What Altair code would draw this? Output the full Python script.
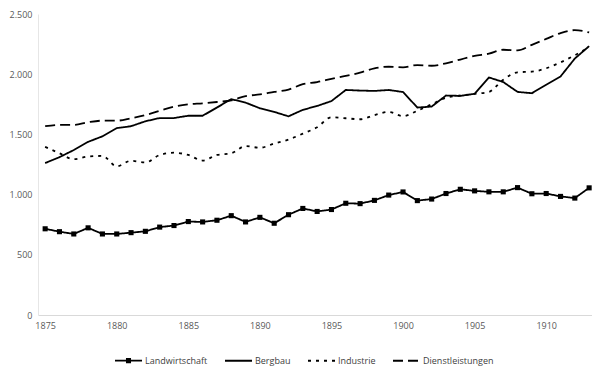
import altair as alt
import pandas as pd

years = [1875, 1876, 1877, 1878, 1879, 1880, 1881, 1882, 1883, 1884, 1885, 1886,
         1887, 1888, 1889, 1890, 1891, 1892, 1893, 1894, 1895, 1896, 1897, 1898,
         1899, 1900, 1901, 1902, 1903, 1904, 1905, 1906, 1907, 1908, 1909, 1910,
         1911, 1912, 1913]

landwirtschaft = [716, 692, 673, 724, 673, 673, 684, 695, 730, 743, 776, 773,
                  787, 825, 773, 811, 762, 833, 885, 860, 876, 928, 925, 952,
                  996, 1022, 950, 963, 1009, 1044, 1031, 1023, 1023, 1058, 1007, 1009,
                  985, 971, 1056]
bergbau = [1262, 1311, 1370, 1438, 1484, 1552, 1568, 1609, 1636, 1636, 1655, 1655,
           1723, 1793, 1764, 1717, 1687, 1650, 1704, 1736, 1777, 1869, 1864, 1861,
           1869, 1852, 1723, 1731, 1823, 1820, 1837, 1973, 1935, 1853, 1842, 1913,
           1981, 2130, 2233]
industrie = [1397, 1343, 1294, 1316, 1321, 1235, 1281, 1267, 1329, 1348, 1329, 1283,
             1329, 1343, 1403, 1389, 1424, 1457, 1506, 1560, 1642, 1634, 1626, 1660,
             1687, 1652, 1696, 1750, 1804, 1823, 1837, 1853, 1954, 2016, 2021, 2049,
             2098, 2157, 2225]
dienstleistungen = [1568, 1579, 1579, 1601, 1614, 1614, 1634, 1660, 1696, 1731, 1750, 1758,
                    1769, 1783, 1818, 1832, 1853, 1872, 1918, 1935, 1962, 1986, 2013, 2049,
                    2062, 2057, 2076, 2070, 2090, 2122, 2152, 2171, 2203, 2198, 2244, 2293,
                    2342, 2366, 2347]

series_names = ["Landwirtschaft", "Bergbau", "Industrie", "Dienstleistungen"]
x_ticks = [1875, 1880, 1885, 1890, 1895, 1900, 1905, 1910]
y_ticks = [0, 500, 1000, 1500, 2000, 2500]

rows = []
for name, vals in zip(series_names, [landwirtschaft, bergbau, industrie, dienstleistungen]):
    for yr, v in zip(years, vals):
        rows.append({"Jahr": yr, "Sektor": name, "Wert": v})
df = pd.DataFrame(rows)

dash_range = [[1, 0], [1, 0], [3, 5], [10, 5]]
shape_range = ["M-1,0H1M-0.12,-0.12H0.12V0.12H-0.12Z", "stroke", "stroke", "stroke"]

legend = alt.Legend(
    title=None, orient="none", legendX=76, legendY=332, direction="horizontal",
    symbolSize=729, symbolStrokeWidth=1.8, symbolStrokeColor="black",
    symbolOpacity=1,
    labelFont="Open Sans", labelFontSize=9, labelColor="#404040",
    columnPadding=13, labelOffset=2,
)

x_enc = alt.X(
    "Jahr:Q",
    scale=alt.Scale(domain=[1874.5, 1913.2], nice=False, zero=False),
    axis=alt.Axis(values=x_ticks, format="d", title=None, ticks=False, tickSize=0,
                  grid=False, domainColor="#d9d9d9", domainWidth=1, labelPadding=6,
                  labelFont="Open Sans", labelFontSize=9, labelColor="#595959"),
)
y_enc = alt.Y(
    "Wert:Q",
    scale=alt.Scale(domain=[0, 2500], nice=False),
    axis=alt.Axis(values=y_ticks, title=None, ticks=False, tickSize=0, grid=False,
                  domainColor="#e6e6e6", domainWidth=1, labelPadding=6,
                  labelExpr="replace(format(datum.value, ','), ',', '.')",
                  labelFont="Open Sans", labelFontSize=9, labelColor="#595959"),
)
dash_enc = alt.StrokeDash(
    "Sektor:N", sort=series_names,
    scale=alt.Scale(domain=series_names, range=dash_range), legend=legend,
)

base = alt.Chart(df)

straight = base.transform_filter(
    alt.FieldOneOfPredicate(field="Sektor", oneOf=["Landwirtschaft", "Bergbau"])
).mark_line(color="black", strokeWidth=1.8).encode(x=x_enc, y=y_enc, strokeDash=dash_enc)

smooth = base.transform_filter(
    alt.FieldOneOfPredicate(field="Sektor", oneOf=["Industrie", "Dienstleistungen"])
).mark_line(color="black", strokeWidth=1.8, interpolate="monotone").encode(
    x=x_enc, y=y_enc, strokeDash=dash_enc)

points = base.transform_filter(
    alt.datum.Sektor == "Landwirtschaft"
).mark_point(shape="square", filled=True, size=26, color="black", opacity=1).encode(
    x=x_enc, y=y_enc)

legend_layer = base.transform_filter(alt.datum.Jahr < 0).mark_point(
    filled=False, color="black", size=729, strokeWidth=1.8
).encode(
    x=x_enc, y=y_enc,
    shape=alt.Shape("Sektor:N", sort=series_names,
                    scale=alt.Scale(domain=series_names, range=shape_range), legend=legend),
)

chart = alt.layer(straight, smooth, points, legend_layer).properties(
    width=554, height=301,
    autosize=alt.AutoSizeParams(type="none"),
    padding={"left": 30, "top": 6, "right": 0, "bottom": 56},
).configure_view(stroke=None)

chart.save("out.html", embed_options={"renderer": "svg", "actions": False})
